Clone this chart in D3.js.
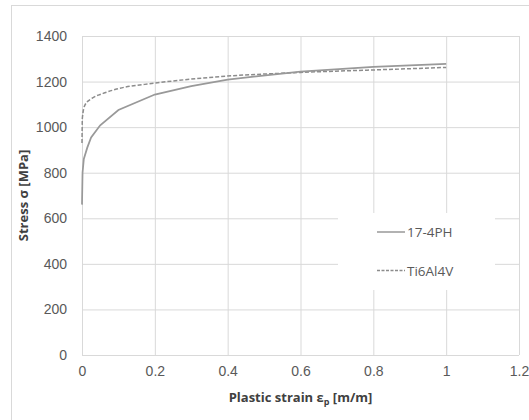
<!DOCTYPE html>
<html>
<head>
<meta charset="utf-8">
<script src="https://cdn.jsdelivr.net/npm/d3@7"></script>
<style>
  html, body { margin: 0; padding: 0; background: #fff; }
  svg { display: block; font-family: "Open Sans", "Liberation Sans", sans-serif; }
</style>
</head>
<body>
<div id="chart"></div>
<script>
// Dati
const strain174PH = [0, 0.0015, 0.005, 0.0145, 0.025, 0.05, 0.1, 0.2, 0.3, 0.4, 0.6, 0.8, 1.0];
const stress174PH = [660, 800, 860, 910, 955, 1008, 1075, 1143, 1180, 1209, 1244, 1265, 1278];

const strainTi = [0, 0.001, 0.008, 0.027, 0.058, 0.095, 0.2, 0.35, 0.6, 0.8, 1.0];
const stressTi = [930, 1040, 1097, 1126, 1148, 1167, 1193, 1218, 1240, 1251, 1262];

const xTicks = [0, 0.2, 0.4, 0.6, 0.8, 1, 1.2];
const yTicks = [0, 200, 400, 600, 800, 1000, 1200, 1400];

const seriesNames = ['17-4PH', 'Ti6Al4V'];

const width = 529, height = 420;
const margin = { top: 36, right: 10, bottom: 65, left: 82 };
const w = 519 - margin.left;
const h = 355 - margin.top;

const svg = d3.select('#chart').append('svg')
    .attr('width', width)
    .attr('height', height);

// bordo esterno del grafico
svg.append('rect')
    .attr('x', 11.5).attr('y', 5.5)
    .attr('width', 600).attr('height', 600)
    .attr('fill', 'none').attr('stroke', '#d9d9d9');

const g = svg.append('g').attr('transform', `translate(${margin.left},${margin.top})`);

const x = d3.scaleLinear().domain([0, 1.2]).range([0, w]);
const y = d3.scaleLinear().domain([0, 1400]).range([h, 0]);

// griglia
g.append('g')
    .attr('transform', `translate(0,${h})`)
    .call(d3.axisBottom(x).tickValues(xTicks).tickSize(-h).tickFormat(d3.format('')).tickPadding(11))
    .call(a => a.select('.domain').remove())
    .call(a => a.selectAll('line').attr('stroke', '#d9d9d9'))
    .call(a => a.selectAll('text').attr('fill', '#595959').style('font-size', '14px'));

g.append('g')
    .call(d3.axisLeft(y).tickValues(yTicks).tickSize(-w).tickFormat(d3.format('d')).tickPadding(15))
    .call(a => a.select('.domain').remove())
    .call(a => a.selectAll('line').attr('stroke', '#d9d9d9'))
    .call(a => a.selectAll('text').attr('fill', '#595959').style('font-size', '14px'));

// linea dell'asse x
g.append('line')
    .attr('x1', 0).attr('x2', w).attr('y1', h + 0.5).attr('y2', h + 0.5)
    .attr('stroke', '#d9d9d9');

const data174 = strain174PH.map((s, i) => [s, stress174PH[i]]);
const dataTi = strainTi.map((s, i) => [s, stressTi[i]]);

g.append('path').datum(dataTi)
    .attr('fill', 'none').attr('stroke', '#8c8c8c').attr('stroke-width', 1.5)
    .attr('stroke-dasharray', '4,2')
    .attr('d', d3.line().x(d => x(d[0])).y(d => y(d[1])).curve(d3.curveMonotoneX));

g.append('path').datum(data174)
    .attr('fill', 'none').attr('stroke', '#999999').attr('stroke-width', 1.75)
    .attr('d', d3.line().x(d => x(d[0])).y(d => y(d[1])));

// legenda
const legend = svg.append('g');
legend.append('rect')
    .attr('x', 338).attr('y', 213).attr('width', 157).attr('height', 77)
    .attr('fill', '#fff');

seriesNames.forEach((name, i) => {
    const ly = 232 + i * 38.5;
    legend.append('line')
        .attr('x1', 377).attr('x2', 405).attr('y1', ly).attr('y2', ly)
        .attr('stroke', i === 0 ? '#999999' : '#8c8c8c')
        .attr('stroke-width', 1.5)
        .attr('stroke-dasharray', i === 0 ? null : '3,1.5');
    legend.append('text')
        .attr('x', 407).attr('y', ly + 5)
        .attr('fill', '#595959').style('font-size', '13.5px')
        .text(name);
});

// titoli assi
svg.append('text')
    .attr('transform', `translate(28,${margin.top + h / 2}) rotate(-90)`)
    .attr('text-anchor', 'middle')
    .attr('fill', '#404040').style('font-size', '13px').style('font-weight', 'bold')
    .text('Stress σ [MPa]');

const xl = svg.append('text')
    .attr('x', margin.left + w / 2).attr('y', 402)
    .attr('text-anchor', 'middle')
    .attr('fill', '#404040').style('font-size', '13px').style('font-weight', 'bold');
xl.append('tspan').text('Plastic strain ε');
xl.append('tspan').attr('dy', 3).style('font-size', '9px').text('p');
xl.append('tspan').attr('dy', -3).text(' [m/m]');
</script>
</body>
</html>
